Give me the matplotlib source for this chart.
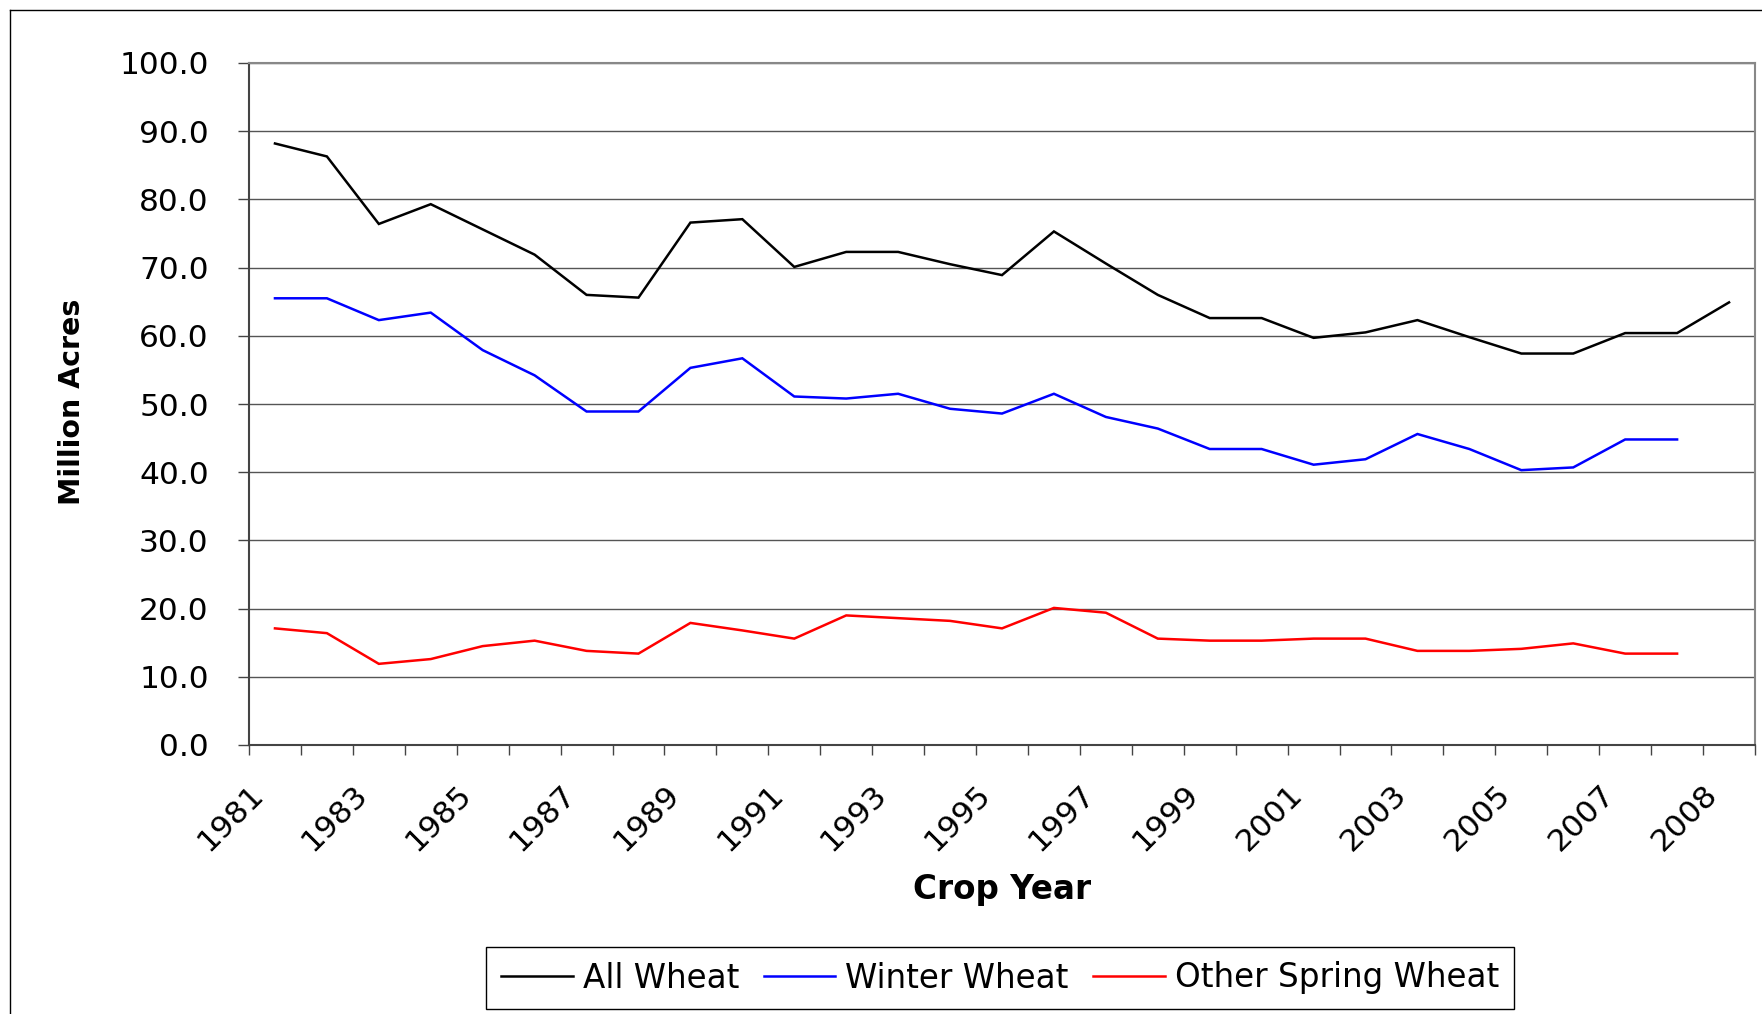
"""Wheat planted acreage by crop year, redrawn as out.png."""
import matplotlib

matplotlib.use("Agg")
import matplotlib.pyplot as plt  # noqa: E402
from matplotlib.lines import Line2D  # noqa: E402

# million acres, one value per crop year category
ALL_WHEAT = [88.2, 86.3, 76.4, 79.3, 75.6, 71.9, 66.0, 65.6, 76.6, 77.1,
             70.1, 72.3, 72.3, 70.5, 68.9, 75.3, 70.6, 66.0, 62.6, 62.6,
             59.7, 60.5, 62.3, 59.8, 57.4, 57.4, 60.4, 60.4, 64.9]
WINTER_WHEAT = [65.5, 65.5, 62.3, 63.4, 57.9, 54.2, 48.9, 48.9, 55.3, 56.7,
                51.1, 50.8, 51.5, 49.3, 48.6, 51.5, 48.1, 46.4, 43.4, 43.4,
                41.1, 41.9, 45.6, 43.4, 40.3, 40.7, 44.8, 44.8]
OTHER_SPRING = [17.1, 16.4, 11.9, 12.6, 14.5, 15.3, 13.8, 13.4, 17.9, 16.8,
                15.6, 19.0, 18.6, 18.2, 17.1, 20.1, 19.4, 15.6, 15.3, 15.3,
                15.6, 15.6, 13.8, 13.8, 14.1, 14.9, 13.4, 13.4]

YEAR_LABELS = ["1981", "1983", "1985", "1987", "1989", "1991", "1993", "1995",
               "1997", "1999", "2001", "2003", "2005", "2007", "2008"]

SERIES = [
    ("All Wheat", ALL_WHEAT, "#000000"),
    ("Winter Wheat", WINTER_WHEAT, "#0000FF"),
    ("Other Spring Wheat", OTHER_SPRING, "#FF0000"),
]

W, H = 1762, 1014


def main():
    fig = plt.figure(figsize=(W / 100, H / 100), dpi=100)
    ax = fig.add_axes([249 / W, 1 - 745 / H, (1755 - 249) / W, 682 / H])

    n = len(ALL_WHEAT)
    for label, values, color in SERIES:
        ax.plot(range(len(values)), values, color=color, lw=1.8, label=label,
                solid_joinstyle="miter")

    ax.set_xlim(-0.5, n - 0.5)
    ax.set_ylim(0, 100)
    ax.set_yticks(range(0, 101, 10))
    ax.set_yticklabels([f"{v:.1f}" for v in range(0, 101, 10)])
    ax.yaxis.grid(True, color="#555555", lw=1.0)
    ax.set_axisbelow(True)

    # category boundaries get tick marks, every other one a label
    ax.set_xticks([k - 0.5 for k in range(n + 1)], minor=True)
    ax.set_xticks([2 * j - 0.5 for j in range(len(YEAR_LABELS))])
    ax.set_xticklabels(YEAR_LABELS, rotation=45, ha="right", va="top",
                       rotation_mode="anchor")

    ax.tick_params(axis="y", direction="out", length=8, width=1,
                   color="#444444", pad=21, labelsize=22.5)
    ax.tick_params(axis="x", which="both", direction="out", length=7.5,
                   width=1, color="#444444")
    ax.tick_params(axis="x", which="major", pad=17, labelsize=22.5)

    for side in ("top", "right"):
        ax.spines[side].set_color("#888888")
        ax.spines[side].set_linewidth(1.5)
    for side in ("left", "bottom"):
        ax.spines[side].set_color("#444444")
        ax.spines[side].set_linewidth(1.5)

    fig.text(72 / W, 1 - 402 / H, "Million Acres", rotation=90,
             ha="center", va="center", fontsize=20.5, fontweight="bold")
    fig.text(1002 / W, 1 - 899 / H, "Crop Year", ha="center",
             va="baseline", fontsize=23.5, fontweight="bold")

    fig.legend(loc="center", bbox_to_anchor=(1000 / W, 1 - 978 / H),
               ncol=3, fontsize=23.5, frameon=True, fancybox=False,
               edgecolor="black", framealpha=1, handlelength=2.2,
               handletextpad=0.3, columnspacing=0.75, borderpad=0.45)
    fig.legends[0].get_frame().set_linewidth(1.0)

    # outer chart border, cut off at right and bottom
    fig.add_artist(Line2D([10 / W, 10 / W], [0, 1 - 10 / H],
                          transform=fig.transFigure, color="black", lw=1))
    fig.add_artist(Line2D([10 / W, 1], [1 - 10 / H, 1 - 10 / H],
                          transform=fig.transFigure, color="black", lw=1))

    fig.savefig("out.png", dpi=100)
    plt.close(fig)


if __name__ == "__main__":
    main()
